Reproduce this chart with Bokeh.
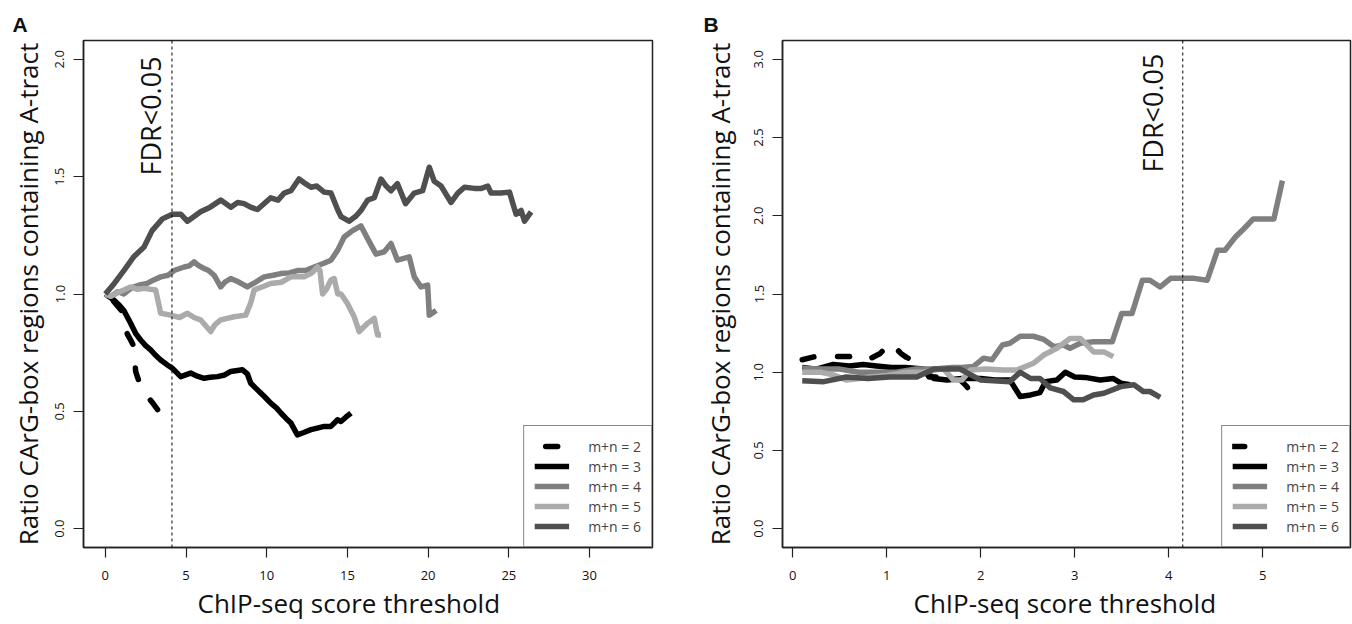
from bokeh.plotting import figure
from bokeh.models import Span, Label, Legend, LegendItem, FixedTicker, NumeralTickFormatter, Title
from bokeh.layouts import row
from bokeh.embed import file_html
from bokeh.resources import INLINE
import math

# ---------------- Panel A data ----------------
a2_x = [0.0, 0.5, 1.0, 1.36, 1.6, 1.78, 1.88, 2.0, 2.19, 2.45, 2.7, 3.0, 3.32]
a2_y = [1.0, 0.97, 0.93, 0.83, 0.80, 0.776, 0.67, 0.645, 0.61, 0.585, 0.556, 0.53, 0.50]

a3_x = [0.0, 0.53, 0.9, 1.15, 1.57, 1.9, 2.19, 2.5, 2.81, 3.1, 3.43, 3.8, 4.15, 4.67, 5.29, 5.7, 6.12,
        6.5, 6.95, 7.4, 7.77, 8.5, 8.8, 9.01, 9.3, 9.63, 9.9, 10.25, 10.6, 10.88, 11.2, 11.5, 11.9,
        12.3, 12.74, 13.2, 13.56, 13.98, 14.39, 14.6, 14.9, 15.22]
a3_y = [1.0, 0.974, 0.95, 0.93, 0.875, 0.83, 0.804, 0.78, 0.762, 0.74, 0.719, 0.70, 0.684, 0.648, 0.663,
        0.65, 0.641, 0.645, 0.648, 0.655, 0.67, 0.677, 0.66, 0.62, 0.60, 0.578, 0.56, 0.535, 0.515,
        0.493, 0.47, 0.45, 0.40, 0.41, 0.422, 0.43, 0.436, 0.436, 0.464, 0.457, 0.475, 0.493]

a4_x = [0.0, 0.33, 0.8, 1.15, 1.5, 1.78, 2.2, 2.6, 3.0, 3.43, 3.9, 4.26, 4.88, 5.2, 5.5, 5.8, 6.12, 6.4,
        6.74, 7.15, 7.4, 7.77, 8.3, 8.8, 9.3, 9.84, 10.4, 10.87, 11.4, 11.9, 12.4, 12.94, 13.5, 13.98,
        14.4, 14.8, 15.32, 15.84, 16.25, 16.77, 17.28, 17.7, 18.1, 18.83, 19.14, 19.56, 19.97, 20.07, 20.5]
a4_y = [1.0, 0.99, 1.01, 1.0, 1.02, 1.03, 1.04, 1.045, 1.06, 1.073, 1.08, 1.10, 1.115, 1.12, 1.137, 1.12,
        1.109, 1.10, 1.08, 1.03, 1.05, 1.066, 1.05, 1.03, 1.05, 1.073, 1.08, 1.087, 1.09, 1.10, 1.10,
        1.115, 1.13, 1.144, 1.187, 1.243, 1.27, 1.29, 1.236, 1.17, 1.18, 1.215, 1.144, 1.158, 1.073,
        1.03, 1.038, 0.91, 0.93]

a5_x = [0.0, 0.33, 0.9, 1.57, 2.0, 2.4, 3.12, 3.3, 3.43, 4.05, 4.6, 5.09, 5.5, 5.9, 6.53, 6.8, 7.15, 7.98,
        8.7, 9.0, 9.22, 9.7, 10.25, 10.9, 11.5, 12.32, 12.8, 13.15, 13.3, 13.46, 13.7, 13.98, 14.18, 14.4,
        14.6, 15.0, 15.42, 15.73, 16.25, 16.66, 16.87, 17.08]
a5_y = [1.0, 0.99, 1.01, 1.03, 1.02, 1.024, 1.017, 0.96, 0.918, 0.91, 0.90, 0.918, 0.90, 0.89, 0.84, 0.87,
        0.89, 0.903, 0.91, 0.96, 1.017, 1.03, 1.045, 1.05, 1.073, 1.073, 1.09, 1.115, 1.10, 1.0, 1.02,
        1.06, 1.066, 1.0, 1.0, 0.96, 0.903, 0.84, 0.875, 0.896, 0.825, 0.825]

a6_x = [0.0, 0.5, 1.15, 1.78, 2.4, 2.9, 3.54, 4.15, 4.67, 5.09, 5.5, 5.9, 6.5, 7.15, 7.78, 8.2, 8.6, 9.0,
        9.43, 10.25, 10.7, 11.08, 11.5, 12.0, 12.4, 12.74, 13.1, 13.56, 13.98, 14.39, 14.6, 15.1, 15.5,
        15.84, 16.25, 16.66, 17.08, 17.4, 17.7, 18.1, 18.6, 19.14, 19.66, 20.07, 20.38, 20.8, 21.42,
        21.84, 22.25, 22.87, 23.3, 23.7, 23.9, 24.5, 25.04, 25.25, 25.45, 25.76, 25.97, 26.38]
a6_y = [1.0, 1.04, 1.10, 1.16, 1.20, 1.27, 1.32, 1.34, 1.34, 1.31, 1.33, 1.35, 1.37, 1.40, 1.37, 1.39,
        1.385, 1.37, 1.36, 1.41, 1.40, 1.43, 1.44, 1.49, 1.47, 1.455, 1.46, 1.434, 1.43, 1.36, 1.33,
        1.31, 1.33, 1.356, 1.40, 1.41, 1.49, 1.46, 1.44, 1.47, 1.385, 1.43, 1.44, 1.54, 1.48, 1.46,
        1.39, 1.43, 1.455, 1.45, 1.45, 1.46, 1.43, 1.43, 1.434, 1.385, 1.34, 1.356, 1.31, 1.35]

# ---------------- Panel B data ----------------
b2_x = [0.1, 0.3, 0.45, 0.6, 0.68, 0.8, 0.93, 1.04, 1.15, 1.21, 1.36, 1.45, 1.62, 1.75, 1.85, 1.92]
b2_y = [1.08, 1.11, 1.10, 1.10, 1.11, 1.08, 1.12, 1.19, 1.12, 1.095, 1.05, 0.97, 0.97, 0.97, 0.91, 0.85]

b3_x = [0.1, 0.25, 0.43, 0.6, 0.75, 0.89, 1.05, 1.2, 1.39, 1.5, 1.64, 1.8, 2.0, 2.15, 2.31, 2.42, 2.53,
        2.63, 2.69, 2.81, 2.9, 3.0, 3.11, 3.27, 3.41, 3.49, 3.59]
b3_y = [1.03, 1.02, 1.05, 1.04, 1.05, 1.04, 1.03, 1.03, 1.02, 0.96, 0.95, 0.96, 0.96, 0.95, 0.95, 0.845,
        0.855, 0.87, 0.94, 0.95, 1.0, 0.97, 0.967, 0.95, 0.96, 0.93, 0.92]

b4_x = [0.1, 0.3, 0.5, 0.7, 0.9, 1.1, 1.3, 1.5, 1.7, 1.8, 1.92, 2.03, 2.12, 2.23, 2.31, 2.42, 2.56, 2.67,
        2.78, 2.88, 2.95, 3.06, 3.2, 3.4, 3.5, 3.61, 3.72, 3.8, 3.91, 4.02, 4.16, 4.27, 4.41, 4.52, 4.6,
        4.71, 4.8, 4.9, 5.12, 5.21]
b4_y = [1.025, 1.02, 1.02, 1.0, 1.0, 1.0, 1.02, 1.02, 1.03, 1.03, 1.036, 1.09, 1.08, 1.174, 1.185, 1.23,
        1.23, 1.21, 1.163, 1.174, 1.153, 1.185, 1.195, 1.195, 1.376, 1.376, 1.588, 1.588, 1.545, 1.6,
        1.6, 1.6, 1.588, 1.78, 1.78, 1.864, 1.917, 1.98, 1.98, 2.225]

b5_x = [0.1, 0.3, 0.43, 0.57, 0.7, 0.82, 1.0, 1.2, 1.39, 1.6, 1.71, 1.8, 1.89, 2.05, 2.24, 2.39, 2.56,
        2.67, 2.81, 2.95, 3.06, 3.2, 3.31, 3.41]
b5_y = [1.0, 1.0, 0.983, 0.95, 0.96, 0.97, 0.98, 1.0, 1.0, 1.025, 0.95, 0.95, 1.015, 1.02, 1.015, 1.015,
        1.057, 1.11, 1.153, 1.216, 1.216, 1.13, 1.13, 1.1]

b6_x = [0.1, 0.33, 0.57, 0.8, 1.03, 1.32, 1.5, 1.78, 2.0, 2.31, 2.42, 2.53, 2.63, 2.74, 2.88, 2.99, 3.09,
        3.2, 3.31, 3.49, 3.63, 3.73, 3.8, 3.91]
b6_y = [0.945, 0.94, 0.97, 0.96, 0.97, 0.97, 1.02, 1.02, 0.95, 0.94, 1.0, 0.96, 0.96, 0.9, 0.877, 0.824,
        0.824, 0.855, 0.866, 0.908, 0.92, 0.877, 0.877, 0.84]

series_labels = ["m+n = 2", "m+n = 3", "m+n = 4", "m+n = 5", "m+n = 6"]
series_colors = ["#000000", "#000000", "#7f7f7f", "#ababab", "#4f4f4f"]
series_dash = ["12 24", "solid", "solid", "solid", "solid"]

a_xticks = [0, 5, 10, 15, 20, 25, 30]
a_yticks = [0.0, 0.5, 1.0, 1.5, 2.0]
b_xticks = [0, 1, 2, 3, 4, 5]
b_yticks = [0.0, 0.5, 1.0, 1.5, 2.0, 2.5, 3.0]

fdr_a = 4.13
fdr_b = 4.15

x_title = "ChIP-seq score threshold"
y_title = "Ratio CArG-box regions containing A-tract"
fdr_text = "FDR<0.05"

FONT = "Open Sans"


def style(p, xticks, yticks, ylab_standoff, panel, panel_offset, xlab_offset):
    p.grid.visible = False
    p.outline_line_color = "#222222"
    p.outline_line_width = 1.5
    p.outline_line_alpha = 1.0
    p.background_fill_color = "white"
    p.border_fill_color = "white"
    for ax in (p.xaxis[0], p.yaxis[0]):
        ax.axis_line_color = "#222222"
        ax.axis_line_width = 1.5
        ax.major_tick_line_color = "#222222"
        ax.major_tick_line_width = 1.2
        ax.major_tick_out = 10
        ax.major_tick_in = 0
        ax.minor_tick_out = 0
        ax.minor_tick_in = 0
        ax.major_label_text_font = FONT
        ax.major_label_text_font_size = "13px"
        ax.major_label_text_color = "#111111"
    p.xaxis[0].ticker = FixedTicker(ticks=xticks)
    p.yaxis[0].ticker = FixedTicker(ticks=yticks)
    p.yaxis[0].formatter = NumeralTickFormatter(format="0.0")
    p.yaxis[0].major_label_orientation = "vertical"
    p.xaxis[0].major_label_standoff = 13
    p.yaxis[0].major_label_standoff = 9
    ya = p.yaxis[0]
    ya.axis_label = y_title
    ya.axis_label_text_font = FONT
    ya.axis_label_text_font_size = "26px"
    ya.axis_label_text_font_style = "normal"
    ya.axis_label_text_color = "#111111"
    ya.axis_label_standoff = ylab_standoff
    p.add_layout(Title(text=x_title, align="left", offset=xlab_offset, standoff=0,
                       text_font=FONT, text_font_size="26px", text_font_style="normal",
                       text_color="#111111"), "below")
    p.title.text = panel
    p.title.align = "left"
    p.title.offset = panel_offset
    p.title.standoff = 10
    p.title.text_font = "Liberation Sans"
    p.title.text_font_style = "bold"
    p.title.text_font_size = "21px"
    p.title.text_color = "#111111"


def add_lines(p, xs, ys, dash_offset):
    items = []
    for x, y, lab, col, dash in zip(xs, ys, series_labels, series_colors, series_dash):
        if dash != "solid":
            r = p.line(x, y, line_color=col, line_width=5.5, line_dash=dash,
                       line_dash_offset=dash_offset, line_cap="round", line_join="round")
        else:
            r = p.line(x, y, line_color=col, line_width=5.5, line_join="round")
        items.append(LegendItem(label=lab, renderers=[r]))
    leg = Legend(items=items, location="bottom_right", margin=0, padding=10, spacing=0,
                 label_height=20, glyph_height=20, glyph_width=35, label_standoff=19,
                 label_text_font=FONT, label_text_font_size="14px",
                 border_line_color="#111111", border_line_width=1.5,
                 background_fill_color="white", background_fill_alpha=1.0)
    p.add_layout(leg, "center")


# ---------------- Figure A ----------------
pa = figure(width=692, height=624, x_range=(-1.35, 33.9), y_range=(-0.08, 2.08),
            output_backend="svg", toolbar_location=None,
            min_border_left=83, min_border_right=40, min_border_top=40, min_border_bottom=77)
style(pa, a_xticks, a_yticks, 7, "A", -71, 114)
add_lines(pa, [a2_x, a3_x, a4_x, a5_x, a6_x], [a2_y, a3_y, a4_y, a5_y, a6_y], 25)
pa.add_layout(Span(location=fdr_a, dimension="height", line_color="black",
                   line_width=1, line_dash="3 3"))
pa.add_layout(Label(x=fdr_a - 1.30, y=1.505, text=fdr_text, angle=math.pi / 2,
                    text_align="left", text_baseline="alphabetic", text_font=FONT,
                    text_font_size="27px", text_color="#111111"))

# ---------------- Figure B ----------------
pb = figure(width=660, height=624, x_range=(-0.11, 5.935), y_range=(-0.12, 3.12),
            output_backend="svg", toolbar_location=None,
            min_border_left=90, min_border_right=2, min_border_top=40, min_border_bottom=77)
style(pb, b_xticks, b_yticks, 14, "B", -79, 131)
add_lines(pb, [b2_x, b3_x, b4_x, b5_x, b6_x], [b2_y, b3_y, b4_y, b5_y, b6_y], 0)
pb.add_layout(Span(location=fdr_b, dimension="height", line_color="black",
                   line_width=1, line_dash="3 3"))
pb.add_layout(Label(x=fdr_b - 0.32, y=2.276, text=fdr_text, angle=math.pi / 2,
                    text_align="left", text_baseline="alphabetic", text_font=FONT,
                    text_font_size="27px", text_color="#111111"))

layout = row(pa, pb, spacing=0)
open("out.html", "w").write(file_html(layout, INLINE))
